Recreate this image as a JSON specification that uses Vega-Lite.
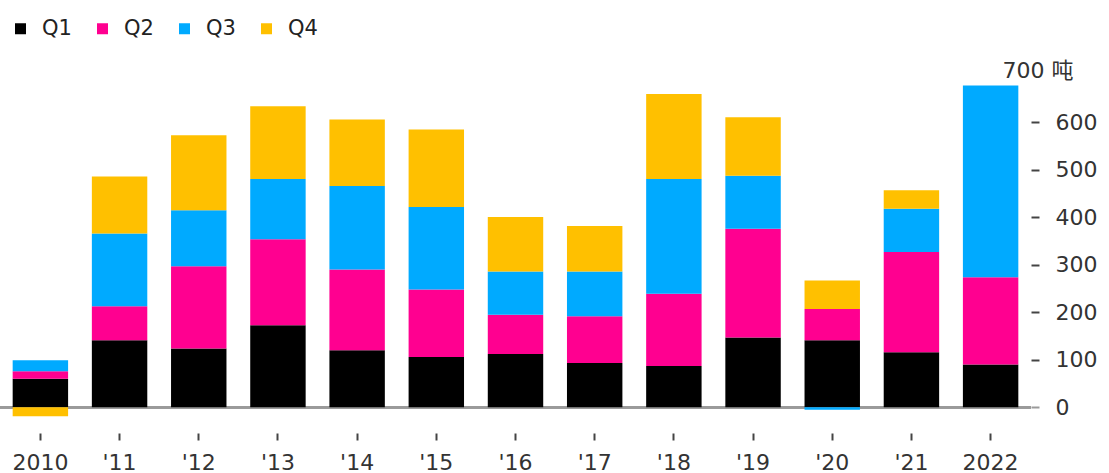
{
  "$schema": "https://vega.github.io/schema/vega-lite/v6.json",
  "autosize": {"type": "none"},
  "width": 1031,
  "height": 356,
  "padding": {"left": 0, "top": 75, "right": 78, "bottom": 42},
  "background": "#ffffff",
  "config": {
    "view": {"stroke": null},
    "font": "DejaVu Sans, Noto Sans CJK SC"
  },
  "data": {
    "values": [
      {"year": "2010", "q": "Q1", "tons": 60},
      {"year": "2010", "q": "Q2", "tons": 16},
      {"year": "2010", "q": "Q3", "tons": 23},
      {"year": "2010", "q": "Q4", "tons": -19},
      {"year": "2011", "q": "Q1", "tons": 141},
      {"year": "2011", "q": "Q2", "tons": 72},
      {"year": "2011", "q": "Q3", "tons": 153},
      {"year": "2011", "q": "Q4", "tons": 120},
      {"year": "2012", "q": "Q1", "tons": 124},
      {"year": "2012", "q": "Q2", "tons": 173},
      {"year": "2012", "q": "Q3", "tons": 118},
      {"year": "2012", "q": "Q4", "tons": 158},
      {"year": "2013", "q": "Q1", "tons": 173},
      {"year": "2013", "q": "Q2", "tons": 181},
      {"year": "2013", "q": "Q3", "tons": 127},
      {"year": "2013", "q": "Q4", "tons": 153},
      {"year": "2014", "q": "Q1", "tons": 120},
      {"year": "2014", "q": "Q2", "tons": 170},
      {"year": "2014", "q": "Q3", "tons": 176},
      {"year": "2014", "q": "Q4", "tons": 140},
      {"year": "2015", "q": "Q1", "tons": 106},
      {"year": "2015", "q": "Q2", "tons": 142},
      {"year": "2015", "q": "Q3", "tons": 174},
      {"year": "2015", "q": "Q4", "tons": 163},
      {"year": "2016", "q": "Q1", "tons": 112},
      {"year": "2016", "q": "Q2", "tons": 83},
      {"year": "2016", "q": "Q3", "tons": 91},
      {"year": "2016", "q": "Q4", "tons": 115},
      {"year": "2017", "q": "Q1", "tons": 93},
      {"year": "2017", "q": "Q2", "tons": 99},
      {"year": "2017", "q": "Q3", "tons": 94},
      {"year": "2017", "q": "Q4", "tons": 96},
      {"year": "2018", "q": "Q1", "tons": 87},
      {"year": "2018", "q": "Q2", "tons": 152},
      {"year": "2018", "q": "Q3", "tons": 242},
      {"year": "2018", "q": "Q4", "tons": 179},
      {"year": "2019", "q": "Q1", "tons": 147},
      {"year": "2019", "q": "Q2", "tons": 229},
      {"year": "2019", "q": "Q3", "tons": 112},
      {"year": "2019", "q": "Q4", "tons": 123},
      {"year": "2020", "q": "Q1", "tons": 141},
      {"year": "2020", "q": "Q2", "tons": 66},
      {"year": "2020", "q": "Q3", "tons": -5},
      {"year": "2020", "q": "Q4", "tons": 60},
      {"year": "2021", "q": "Q1", "tons": 116},
      {"year": "2021", "q": "Q2", "tons": 211},
      {"year": "2021", "q": "Q3", "tons": 91},
      {"year": "2021", "q": "Q4", "tons": 39},
      {"year": "2022", "q": "Q1", "tons": 90},
      {"year": "2022", "q": "Q2", "tons": 184},
      {"year": "2022", "q": "Q3", "tons": 404}
    ]
  },
  "layer": [
    {
      "mark": {"type": "rule", "color": "#9a9a9a", "strokeWidth": 2},
      "encoding": {
        "y": {"datum": 0, "type": "quantitative"}
      }
    },
    {
      "mark": {"type": "bar"},
      "encoding": {
        "x": {
          "field": "year",
          "type": "ordinal",
          "scale": {"paddingInner": 0.3, "paddingOuter": 0.16},
          "axis": {
            "title": null,
            "domain": false,
            "ticks": true,
            "tickSize": 7,
            "tickWidth": 2,
            "tickColor": "#444444",
            "offset": 2,
            "labelAngle": 0,
            "labelFontSize": 22,
            "labelColor": "#333333",
            "labelPadding": 12,
            "labelExpr": "datum.value == '2010' || datum.value == '2022' ? datum.value : \"'\" + substring(datum.value, 2, 4)"
          }
        },
        "y": {
          "field": "tons",
          "type": "quantitative",
          "stack": "zero",
          "scale": {"domain": [-50, 700], "nice": false, "zero": false},
          "axis": {
            "orient": "right",
            "title": null,
            "domain": false,
            "grid": false,
            "values": [0, 100, 200, 300, 400, 500, 600, 700],
            "tickSize": 8,
            "tickWidth": 2,
            "tickColor": {"condition": {"test": "datum.value == 0", "value": "#9a9a9a"}, "value": "#444444"},
            "tickOpacity": {"condition": {"test": "datum.value == 700", "value": 0}, "value": 1},
            "labelFontSize": 22,
            "labelColor": "#333333",
            "labelPadding": {"condition": {"test": "datum.value == 700", "value": -37}, "value": 16},
            "labelOffset": {"condition": {"test": "datum.value == 700", "value": -5}, "value": 0},
            "labelExpr": "datum.value == 700 ? '700 吨' : datum.label"
          }
        },
        "color": {
          "field": "q",
          "type": "nominal",
          "scale": {
            "domain": ["Q1", "Q2", "Q3", "Q4"],
            "range": ["#000000", "#FF0090", "#00AAFF", "#FFC000"]
          },
          "legend": {
            "title": null,
            "orient": "none",
            "direction": "horizontal",
            "legendX": 10,
            "legendY": -57,
            "symbolType": "square",
            "symbolSize": 121,
            "symbolStrokeWidth": 0,
            "labelFontSize": 21,
            "labelColor": "#222222",
            "labelOffset": 11,
            "columnPadding": 20
          }
        },
        "order": {"field": "q", "sort": "ascending"}
      }
    }
  ]
}
